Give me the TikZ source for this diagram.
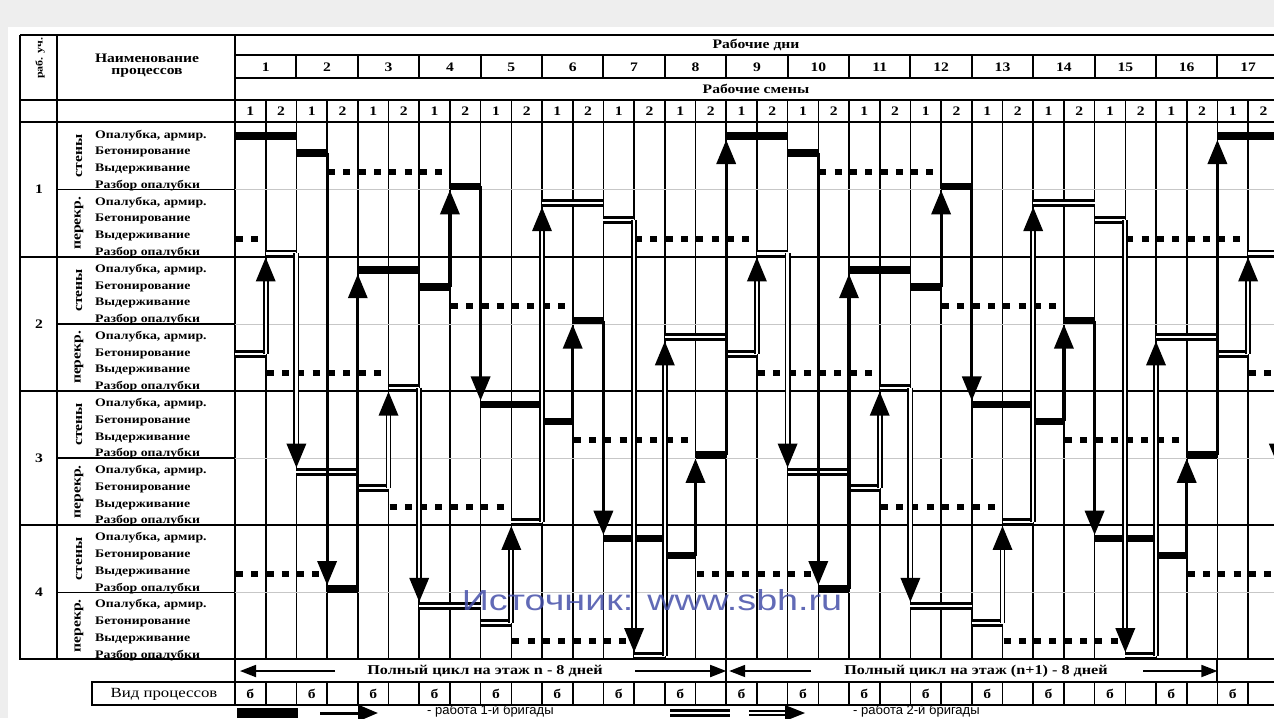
\documentclass[tikz,border=0pt]{standalone}
\usepackage{fontspec}
\setmainfont{Liberation Serif}
\newfontfamily\tabf[FakeStretch=1.2]{Liberation Serif}
\newfontfamily\wmf[FakeStretch=1.3]{Liberation Sans}
\newfontfamily\lgf{Liberation Sans}
\usetikzlibrary{arrows.meta}
\definecolor{bgg}{HTML}{EEEEEE}
\definecolor{wmc}{RGB}{70,80,170}
\tikzset{
  declare function={xs(\s)=235+30.7*\s; yr(\r)=122.5+16.78*\r; yb(\r)=136+16.78*\r;},
  gridl/.style={line width=1.6pt},
  hdrl/.style={line width=2pt},
  faint/.style={line width=0.7pt, black!22},
  barone/.style={line width=7.5pt},
  bartwo/.style={double, double distance=2.2pt, line width=2.8pt},
  dotsl/.style={line width=6pt, dash pattern=on 7pt off 8.3pt},
  shone/.style={line width=3.2pt},
  shtwo/.style={double, double distance=2.3pt, line width=1.8pt},
  proc/.style={font=\tabf\bfseries\fontsize{11.5}{12}\selectfont, anchor=base west, inner sep=0pt},
  hdr/.style={font=\tabf\bfseries\fontsize{13}{14}\selectfont, inner sep=0pt},
  small/.style={font=\tabf\bfseries\fontsize{10}{11}\selectfont, inner sep=0pt},
  num/.style={font=\tabf\bfseries\fontsize{13}{14}\selectfont, inner sep=0pt},
  cyc/.style={font=\tabf\bfseries\fontsize{13.5}{14}\selectfont, inner sep=0pt},
  vid/.style={font=\tabf\fontsize{14}{15}\selectfont, inner sep=0pt},
  legt/.style={font=\lgf\fontsize{13}{14}\selectfont, inner sep=0pt},
  wmark/.style={font=\wmf\fontsize{29}{30}\selectfont, text=wmc, text opacity=0.85, inner sep=0pt},
}
\newcommand\varrow[4]{%
  \pgfmathsetmacro\arX{#2}%
  \pgfmathsetmacro\arA{#3}%
  \pgfmathsetmacro\arB{#4}%
  \pgfmathsetmacro\arS{(\arB<\arA) ? 1 : -1}%
  \pgfmathsetmacro\arT{\arB+4*\arS}%
  \pgfmathsetmacro\arH{\arT+24*\arS}%
  \pgfmathsetmacro\arE{\arT+20*\arS}%
  \draw[#1] (\arX,\arA) -- (\arX,\arE);
  \fill (\arX,\arT) -- (\arX-10,\arH) -- (\arX+10,\arH) -- cycle;
}
\begin{document}
\begin{tikzpicture}[x=1pt,y=-1pt]
\useasboundingbox (0,0) rectangle (1274,718);
\fill[bgg] (0,0) rectangle (1274,718);
\fill[white] (8,27) rectangle (1274,718);

% ---------- header lines ----------
\draw[hdrl] (20,35) -- (1274,35);
\draw[hdrl] (235,55) -- (1274,55);
\draw[hdrl] (235,78) -- (1274,78);
\draw[hdrl] (20,100) -- (1274,100);
\draw[hdrl] (20,122) -- (1274,122);
\draw[hdrl] (20,35) -- (20,660);
\draw[hdrl] (57,35) -- (57,660);
\draw[hdrl] (235,35) -- (235,705);
\foreach \dd in {1,...,17} \draw[hdrl] ({xs(2*\dd)},55) -- ({xs(2*\dd)},78);
\foreach \s in {1,...,34} \draw[gridl] ({xs(\s)},100) -- ({xs(\s)},660);

% faint subsection lines
\foreach \i in {0,...,3} \draw[faint] (235,{yr(8*\i+4)}) -- (1274,{yr(8*\i+4)});
% section lines
\foreach \i in {1,...,4} \draw[hdrl] (20,{yr(8*\i)}) -- (1274,{yr(8*\i)});
\foreach \i in {0,...,3} \draw[gridl] (57,{yr(8*\i+4)}) -- (235,{yr(8*\i+4)});

% header texts
\node[small, rotate=90] (rabuch) at (40,58) {раб. уч.};
\node[hdr] (naim1) at (147,58) {Наименование};
\node[hdr] (naim2) at (147,73) {процессов};
\node[hdr] (rdni) at (756,45) {Рабочие дни};
\node[hdr] (rsm) at (756,89) {Рабочие смены};
\foreach \dd in {1,...,17} \node[num] (day\dd) at ({xs(2*\dd-1)},67) {\dd};
\foreach \dd in {0,...,16} {
  \node[num] (sa\dd) at ({xs(2*\dd+0.5)},111) {1};
  \node[num] (sb\dd) at ({xs(2*\dd+1.5)},111) {2};
}

% left column texts
\foreach \i [evaluate=\i as \j using int(\i+1)] in {0,...,3} {
  \node[num] (sec\i) at (39,{yr(8*\i+4)}) {\j};
  \node[hdr, rotate=90] (st\i) at (79,{yr(8*\i+2)}) {стены};
  \node[hdr, rotate=90] (pk\i) at (79,{yr(8*\i+6)}) {перекр.};
  \foreach \m in {0,4} {
    \node[proc] (pa\i\m) at (95,{yr(8*\i+\m)+15.5}) {Опалубка, армир.};
    \node[proc] (pb\i\m) at (95,{yr(8*\i+\m+1)+15.5}) {Бетонирование};
    \node[proc] (pc\i\m) at (95,{yr(8*\i+\m+2)+15.5}) {Выдерживание};
    \node[proc] (pd\i\m) at (95,{yr(8*\i+\m+3)+15.5}) {Разбор опалубки};
  }
}

% ---------- schedule ----------
\begin{scope}
\clip (235,122) rectangle (1274,660);
\foreach \nn in {-1,0,1,2}{
 \foreach \kk in {0,1,2,3}{
  \pgfmathsetmacro\bb{4*\kk+16*\nn}
  \pgfmathsetmacro\cc{\bb+10}
  \pgfmathsetmacro\ra{8*\kk}
  \draw[barone] ({xs(\bb)},{yb(\ra)}) -- ({xs(\bb+2)},{yb(\ra)});
  \draw[barone] ({xs(\bb+2)},{yb(\ra+1)}) -- ({xs(\bb+3)},{yb(\ra+1)});
  \draw[dotsl] ({xs(\bb+3)+1},{yb(\ra+2)+2}) -- ({xs(\bb+7)},{yb(\ra+2)+2});
  \draw[barone] ({xs(\bb+7)},{yb(\ra+3)}) -- ({xs(\bb+8)},{yb(\ra+3)});
  \draw[bartwo] ({xs(\cc)},{yb(\ra+4)}) -- ({xs(\cc+2)},{yb(\ra+4)});
  \draw[bartwo] ({xs(\cc+2)},{yb(\ra+5)}) -- ({xs(\cc+3)},{yb(\ra+5)});
  \draw[dotsl] ({xs(\cc+3)+1},{yb(\ra+6)+2}) -- ({xs(\cc+7)},{yb(\ra+6)+2});
  \draw[bartwo] ({xs(\cc+7)},{yb(\ra+7)}) -- ({xs(\cc+8)},{yb(\ra+7)});
 }
}
\foreach \nn in {-1,0,1,2}{
 \foreach \kk in {0,1,2,3}{
  \pgfmathtruncatemacro\km{mod(\kk+3,4)}
  \pgfmathtruncatemacro\kp{mod(\kk+1,4)}
  \pgfmathtruncatemacro\sA{4*\kk+3+16*\nn}
  \pgfmathtruncatemacro\sB{\sA+1}
  \pgfmathtruncatemacro\tA{4*\kk+13+16*\nn}
  \pgfmathtruncatemacro\tB{\tA+1}
  \ifnum\sA>0 \varrow{shone}{xs(\sA)}{yb(8*\kk+1)}{yb(8*\km+3)}\fi
  \ifnum\sB>0 \varrow{shone}{xs(\sB)}{yb(8*\km+3)}{yb(8*\kp)}\fi
  \ifnum\tA>0 \varrow{shtwo}{xs(\tA)}{yb(8*\kk+5)}{yb(8*\km+7)}\fi
  \ifnum\tB>0 \varrow{shtwo}{xs(\tB)}{yb(8*\km+7)}{yb(8*\kp+4)}\fi
 }
}
\end{scope}

% ---------- bottom rows ----------
\draw[hdrl] (235,682) -- (1274,682);
\draw[hdrl] ({xs(16)},660) -- ({xs(16)},682);
\draw[hdrl] ({xs(32)},660) -- ({xs(32)},682);
\node[cyc] (cyc1) at (485,671) {Полный цикл на этаж n - 8 дней};
\node[cyc] (cyc2) at (976,671) {Полный цикл на этаж (n+1) - 8 дней};
\coordinate (c1l) at (240,671); \coordinate (c1r) at ({xs(16)},671);
\coordinate (c2l) at ({xs(16)+3},671); \coordinate (c2r) at ({xs(32)},671);
\draw[line width=1.8pt, -{Triangle[length=16pt,width=12pt]}] (335,671) -- (c1l);
\draw[line width=1.8pt, -{Triangle[length=16pt,width=12pt]}] (635,671) -- (c1r);
\draw[line width=1.8pt, -{Triangle[length=16pt,width=12pt]}] (811,671) -- (c2l);
\draw[line width=1.8pt, -{Triangle[length=16pt,width=12pt]}] (1143,671) -- (c2r);

\draw[hdrl] (92,682) rectangle (235,705);
\node[vid] (vidp) at (164,694) {Вид процессов};
\draw[hdrl] (235,705) -- (1274,705);
\foreach \s in {1,...,34} \draw[gridl] ({xs(\s)},682) -- ({xs(\s)},705);
\foreach \dd in {0,...,16} \node[num] (vb\dd) at ({xs(2*\dd+0.5)},694) {б};

% legend
\draw[line width=10pt] (237,713) -- (298,713);
\draw[line width=3pt, -{Triangle[length=20pt,width=16pt]}] (320,713) -- (378,713);
\node[legt, anchor=west] (leg1) at (427,711) {- работа 1-й бригады};
\draw[double, double distance=2.4pt, line width=3pt] (670,713) -- (730,713);
\draw[shtwo] (749,713) -- (788,713);
\fill (805,713) -- (785,705) -- (785,721) -- cycle;
\node[legt, anchor=west] (leg2) at (853,711) {- работа 2-й бригады};

% watermark
\node[wmark] (wm) at (652,600) {Источник: www.sbh.ru};
\end{tikzpicture}
\end{document}
